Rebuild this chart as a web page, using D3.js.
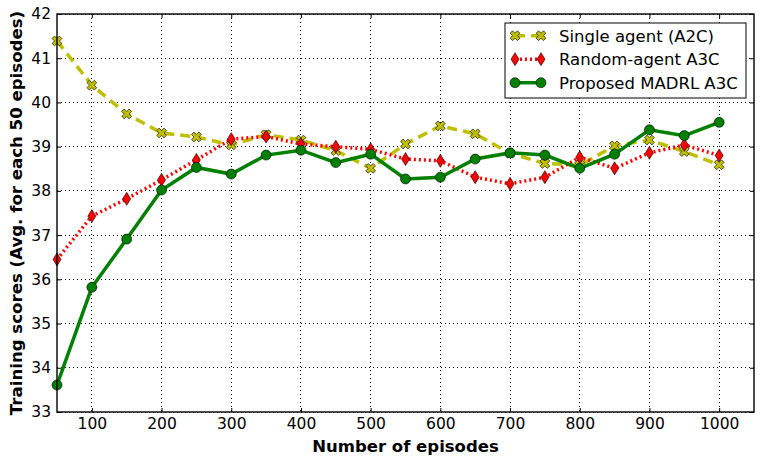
<!DOCTYPE html>
<html>
<head>
<meta charset="utf-8">
<script src="https://cdn.jsdelivr.net/npm/d3@7"></script>
<style>
  body { margin: 0; background: #fff; }
  svg { font-family: "DejaVu Sans", sans-serif; }
</style>
</head>
<body>
<div id="chart"></div>
<script>
const episodes = [50, 100, 150, 200, 250, 300, 350, 400, 450, 500,
                  550, 600, 650, 700, 750, 800, 850, 900, 950, 1000];

const singleA2C = [41.39, 40.39, 39.74, 39.31, 39.22, 39.04, 39.27, 39.15, 38.91, 38.51,
                   39.06, 39.47, 39.29, 38.85, 38.62, 38.58, 39.02, 39.15, 38.89, 38.59];

const randomA3C = [36.45, 37.43, 37.82, 38.25, 38.70, 39.17, 39.23, 39.06, 39.00, 38.94,
                   38.72, 38.68, 38.31, 38.16, 38.31, 38.76, 38.51, 38.86, 39.04, 38.80];

const madrlA3C = [33.61, 35.82, 36.91, 38.02, 38.53, 38.38, 38.81, 38.92, 38.64, 38.83,
                  38.27, 38.31, 38.72, 38.86, 38.81, 38.51, 38.83, 39.38, 39.25, 39.55];

const xTicks = [100, 200, 300, 400, 500, 600, 700, 800, 900, 1000];
const yTicks = [33, 34, 35, 36, 37, 38, 39, 40, 41, 42];

const seriesList = [
    { name: 'Single agent (A2C)', values: singleA2C, color: '#bfbf00', dash: '10,6', marker: 'x' },
    { name: 'Random-agent A3C', values: randomA3C, color: '#ff0000', dash: '2,3', marker: 'd' },
    { name: 'Proposed MADRL A3C', values: madrlA3C, color: '#008000', dash: null, marker: 'o' }
];

const width = 761, height = 462;
const margin = { top: 14, right: 7, bottom: 50, left: 57 };

const svg = d3.select('#chart').append('svg')
    .attr('width', width)
    .attr('height', height);

const x = d3.scaleLinear().domain([50, 1050]).range([margin.left, width - margin.right]);
const y = d3.scaleLinear().domain([33, 42]).range([height - margin.bottom, margin.top]);

const plotW = width - margin.left - margin.right;
const plotH = height - margin.top - margin.bottom;

// grid
const grid = svg.append('g');
grid.selectAll('line.gx').data(xTicks).enter().append('line')
    .attr('x1', d => x(d)).attr('x2', d => x(d))
    .attr('y1', margin.top).attr('y2', height - margin.bottom)
    .attr('stroke', '#000').attr('stroke-width', 1).attr('stroke-dasharray', '1,3')
    .attr('shape-rendering', 'crispEdges');
grid.selectAll('line.gy').data(yTicks).enter().append('line')
    .attr('y1', d => y(d)).attr('y2', d => y(d))
    .attr('x1', margin.left).attr('x2', width - margin.right)
    .attr('stroke', '#000').attr('stroke-width', 1).attr('stroke-dasharray', '1,3')
    .attr('shape-rendering', 'crispEdges');

// axes with inward ticks
const axisFont = g => g.selectAll('text').attr('font-size', 15.5).attr('fill', '#000')
    .attr('font-family', '"DejaVu Sans", sans-serif');

svg.append('g')
    .attr('transform', `translate(0,${height - margin.bottom})`)
    .call(d3.axisBottom(x).tickValues(xTicks).tickFormat(d3.format('d'))
        .tickSizeInner(-4).tickSizeOuter(0).tickPadding(6))
    .call(g => g.select('.domain').remove())
    .call(axisFont);
svg.append('g')
    .attr('transform', `translate(0,${margin.top})`)
    .call(d3.axisTop(x).tickValues(xTicks).tickSizeInner(-4).tickSizeOuter(0).tickFormat(''))
    .call(g => g.select('.domain').remove());
svg.append('g')
    .attr('transform', `translate(${margin.left},0)`)
    .call(d3.axisLeft(y).tickValues(yTicks).tickSizeInner(-4).tickSizeOuter(0).tickPadding(6))
    .call(g => g.select('.domain').remove())
    .call(axisFont);
svg.append('g')
    .attr('transform', `translate(${width - margin.right},0)`)
    .call(d3.axisRight(y).tickValues(yTicks).tickSizeInner(-4).tickSizeOuter(0).tickFormat(''))
    .call(g => g.select('.domain').remove());

// markers
const xPath = d3.symbol().type(d3.symbolCross).size(60)();
function drawMarker(g, type, color) {
    if (type === 'x') {
        g.append('path').attr('d', xPath).attr('transform', 'rotate(45)')
            .attr('fill', color).attr('stroke', '#000').attr('stroke-width', 0.6);
    } else if (type === 'd') {
        g.append('path').attr('d', 'M0,-6.5L4,0L0,6.5L-4,0Z')
            .attr('fill', color).attr('stroke', '#000').attr('stroke-width', 0.6);
    } else {
        g.append('circle').attr('r', 5)
            .attr('fill', color).attr('stroke', '#000').attr('stroke-width', 0.6);
    }
}

const line = d3.line().x(d => x(d[0])).y(d => y(d[1]));

svg.append('clipPath').attr('id', 'plot-clip')
    .append('rect').attr('x', margin.left).attr('y', margin.top)
    .attr('width', plotW).attr('height', plotH);

const plot = svg.append('g');
seriesList.forEach(s => {
    const pts = episodes.map((e, i) => [e, s.values[i]]);
    plot.append('path')
        .datum(pts)
        .attr('d', line)
        .attr('fill', 'none')
        .attr('stroke', s.color)
        .attr('stroke-width', 3.5)
        .attr('stroke-dasharray', s.dash)
        .attr('clip-path', 'url(#plot-clip)');
    pts.forEach(p => {
        const g = plot.append('g').attr('transform', `translate(${x(p[0])},${y(p[1])})`);
        drawMarker(g, s.marker, s.color);
    });
});

// frame
svg.append('rect')
    .attr('x', margin.left).attr('y', margin.top)
    .attr('width', plotW).attr('height', plotH)
    .attr('fill', 'none').attr('stroke', '#000').attr('stroke-width', 1.4);

// axis labels
svg.append('text')
    .attr('x', margin.left + plotW / 2).attr('y', 452)
    .attr('text-anchor', 'middle')
    .attr('font-size', 16.5).attr('font-weight', 'bold')
    .text('Number of episodes');
svg.append('text')
    .attr('transform', `translate(21.5,${margin.top + plotH / 2}) rotate(-90)`)
    .attr('text-anchor', 'middle')
    .attr('font-size', 16.6).attr('font-weight', 'bold')
    .text('Training scores (Avg. for each 50 episodes)');

// legend
const legend = svg.append('g').attr('transform', 'translate(505,23)');
legend.append('rect')
    .attr('width', 241).attr('height', 75)
    .attr('fill', '#fff').attr('stroke', '#000').attr('stroke-width', 1);
seriesList.forEach((s, i) => {
    const ly = 12.7 + i * 23.5;
    legend.append('line')
        .attr('x1', 10).attr('x2', 36).attr('y1', ly).attr('y2', ly)
        .attr('stroke', s.color).attr('stroke-width', 3.5)
        .attr('stroke-dasharray', s.dash);
    [10, 36].forEach(mx => {
        const g = legend.append('g').attr('transform', `translate(${mx},${ly})`);
        drawMarker(g, s.marker, s.color);
    });
    legend.append('text')
        .attr('x', 54).attr('y', ly + 6.2)
        .attr('font-size', 16.5)
        .text(s.name);
});
</script>
</body>
</html>
